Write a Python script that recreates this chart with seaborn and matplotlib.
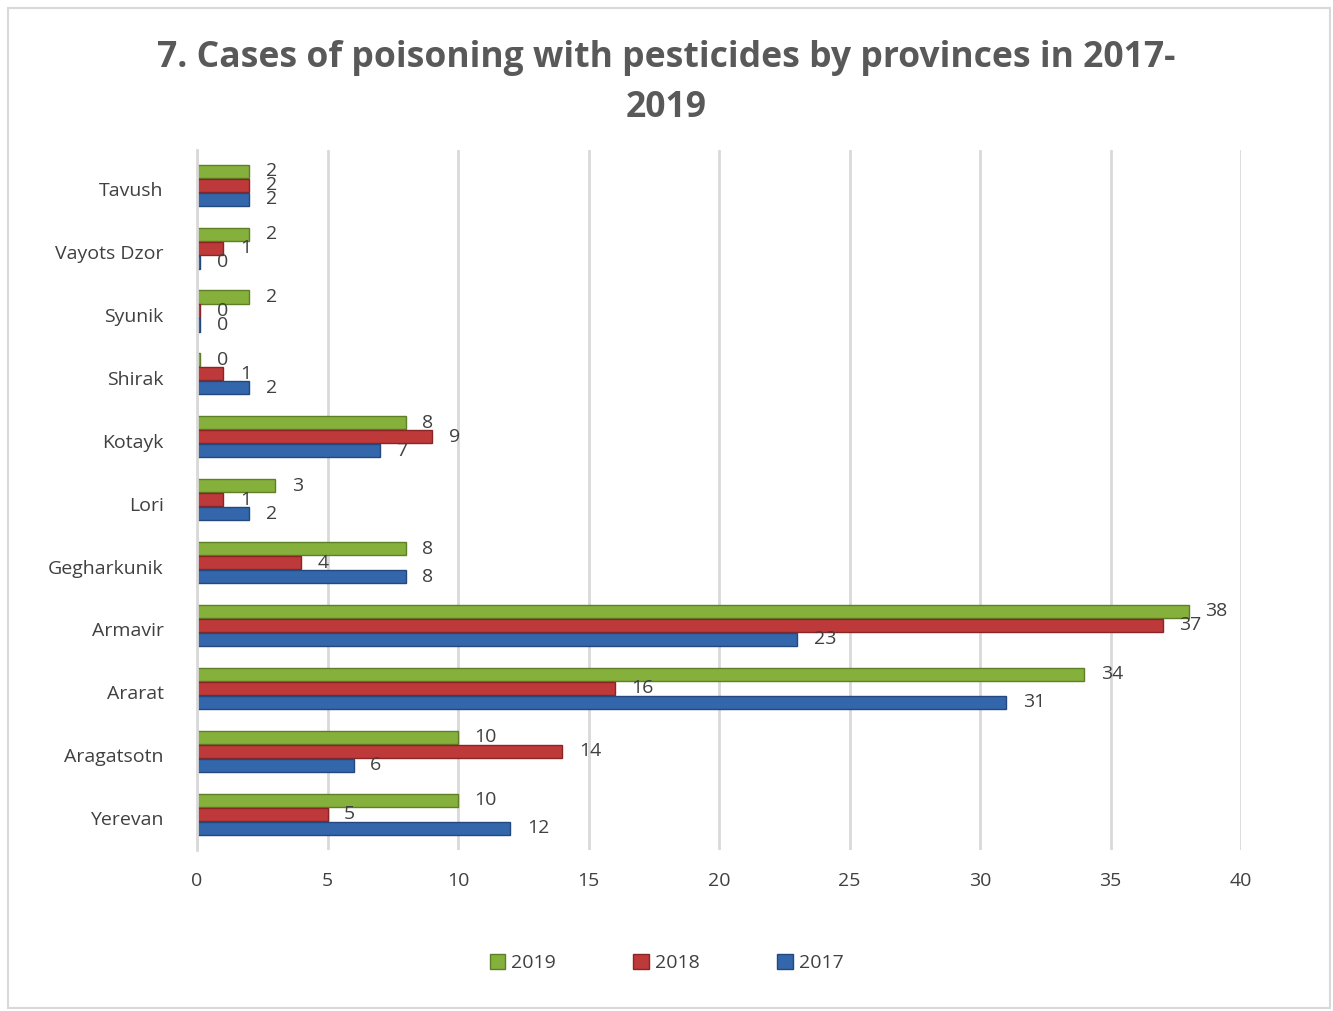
import matplotlib
matplotlib.use("Agg")
import matplotlib.pyplot as plt
import matplotlib.patches as mpatches
import matplotlib.transforms as mtransforms
import seaborn as sns
import pandas as pd

provinces = ["Tavush", "Vayots Dzor", "Syunik", "Shirak", "Kotayk", "Lori",
             "Gegharkunik", "Armavir", "Ararat", "Aragatsotn", "Yerevan"]
v2019 = [2, 2, 2, 0, 8, 3, 8, 38, 34, 10, 10]
v2018 = [2, 1, 0, 1, 9, 1, 4, 37, 16, 14, 5]
v2017 = [2, 0, 0, 2, 7, 2, 8, 23, 31, 6, 12]
years = ["2019", "2018", "2017"]
colors = {"2019": "#86B03C", "2018": "#BE3A3A", "2017": "#3366AA"}
edges = {"2019": "#5E7F25", "2018": "#8A2525", "2017": "#22487E"}

df = pd.DataFrame({
    "province": provinces * 3,
    "year": ["2019"] * 11 + ["2018"] * 11 + ["2017"] * 11,
    "value": v2019 + v2018 + v2017,
})

sns.set_theme(style="white")
plt.rcParams["font.family"] = ["Open Sans", "DejaVu Sans"]
txt = "#404040"

fig = plt.figure(figsize=(13.33, 10.11), dpi=100)
ax = fig.add_axes([197 / 1333, (1011 - 850) / 1011, 1044 / 1333, 700 / 1011])

sns.barplot(data=df, y="province", x="value", hue="year", order=provinces,
            hue_order=years, palette=colors, orient="h", width=0.667,
            gap=0.06, ax=ax, legend=False, saturation=1)

down = mtransforms.ScaledTranslation(0, -4 / 100, fig.dpi_scale_trans)
for cont, yr in zip(ax.containers, years):
    for bar in cont:
        bar.set_edgecolor(edges[yr])
        bar.set_linewidth(1.0)
        if bar.get_width() == 0:
            bar.set_width(0.12)
    vals = df[df.year == yr]["value"].tolist()
    anns = ax.bar_label(cont, labels=[str(v) for v in vals], padding=12,
                        fontsize=14, color=txt)
    for a in anns:
        a.set_transform(a.get_transform() + down)

ax.set_xlim(0, 40)
ax.set_ylim(10.57, -0.56)
ax.set_xticks(range(0, 41, 5))
ax.grid(axis="x", color="#D9D9D9", linewidth=2)
ax.grid(axis="y", visible=False)
ax.set_axisbelow(True)
for s in ["top", "right", "bottom"]:
    ax.spines[s].set_visible(False)
ax.spines["left"].set_color("#D9D9D9")
ax.spines["left"].set_linewidth(2)
ax.tick_params(axis="x", length=0, pad=16, labelsize=14, labelcolor=txt)
ax.tick_params(axis="y", length=0, pad=24, labelsize=14, labelcolor=txt)
for lab in ax.get_yticklabels():
    lab.set_transform(lab.get_transform() + down)
ax.set_xlabel("")
ax.set_ylabel("")

fig.text(0.5, 1 - 83 / 1011,
         "7. Cases of poisoning with pesticides by provinces in 2017-\n2019",
         ha="center", va="center", fontsize=25.6, fontweight="bold",
         color="#595959", linespacing=1.5)

handles = [mpatches.Patch(facecolor=colors[y], edgecolor=edges[y], label=y)
           for y in years]
fig.legend(handles=handles, loc="center", bbox_to_anchor=(0.5, 1 - 963 / 1011),
           ncol=3, frameon=False, fontsize=14, handlelength=0.8,
           handleheight=0.8, handletextpad=0.3, columnspacing=4.0,
           labelcolor=txt)

fig.add_artist(mpatches.Rectangle((8 / 1333, 1 - 1008 / 1011),
                                  1322 / 1333, 1000 / 1011,
                                  transform=fig.transFigure, fill=False,
                                  edgecolor="#D9D9D9", linewidth=1.5))

fig.savefig("out.png", dpi=100)
